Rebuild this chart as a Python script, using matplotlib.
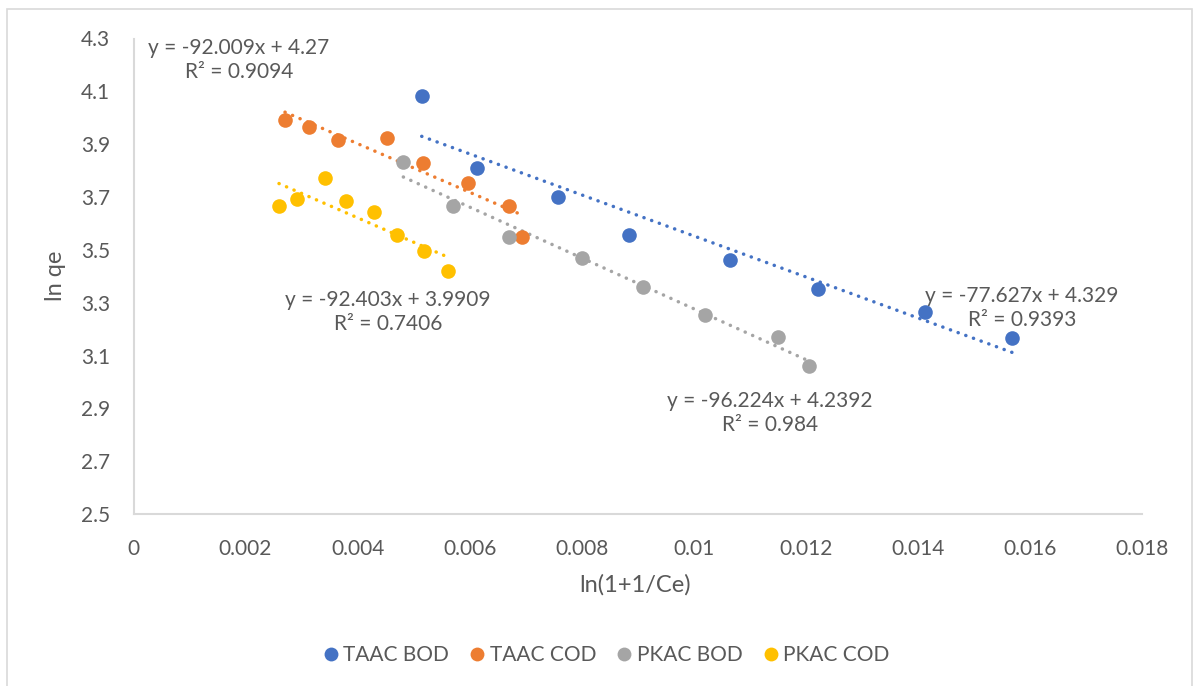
import numpy as np
import matplotlib
matplotlib.use("Agg")
import matplotlib.pyplot as plt
from matplotlib.patches import Rectangle

plt.rcParams['font.family'] = ['Lato', 'DejaVu Sans']

# data
series_names = ["TAAC BOD", "TAAC COD", "PKAC BOD", "PKAC COD"]
series_colors = ["#4472C4", "#ED7D31", "#A5A5A5", "#FFC000"]

taac_bod_x = [0.005144, 0.006126, 0.007572, 0.008850, 0.010647, 0.012212, 0.014128, 0.015686]
taac_bod_y = [4.081, 3.810, 3.701, 3.558, 3.462, 3.352, 3.263, 3.166]

taac_cod_x = [0.002704, 0.003138, 0.003655, 0.004525, 0.005162, 0.005976, 0.006697, 0.006929]
taac_cod_y = [3.991, 3.965, 3.916, 3.924, 3.827, 3.754, 3.667, 3.549]

pkac_bod_x = [0.004816, 0.005703, 0.006697, 0.008000, 0.009089, 0.010206, 0.011509, 0.012062]
pkac_bod_y = [3.832, 3.667, 3.549, 3.470, 3.358, 3.255, 3.169, 3.060]

pkac_cod_x = [0.002597, 0.002913, 0.003413, 0.003793, 0.004298, 0.004703, 0.005185, 0.005608]
pkac_cod_y = [3.667, 3.692, 3.773, 3.686, 3.642, 3.558, 3.495, 3.421]

# trendline coefficients as printed on the chart
slopes = [-77.627, -92.009, -96.224, -92.403]
intercepts = [4.329, 4.27, 4.2392, 3.9909]
r2_values = ["0.9393", "0.9094", "0.984", "0.7406"]

xs = [taac_bod_x, taac_cod_x, pkac_bod_x, pkac_cod_x]
ys = [taac_bod_y, taac_cod_y, pkac_bod_y, pkac_cod_y]

# where the equation labels sit (data coords, centre of the two-line block)
label_pos = [(0.015859, 3.281), (0.001883, 4.2186), (0.011361, 2.881), (0.004543, 3.264)]

text_color = "#595959"
W, H = 1195, 686

fig = plt.figure(figsize=(W / 100, H / 100), dpi=100)
ax = fig.add_axes([133.5 / W, 1 - 514 / H, (1142 - 133.5) / W, (514 - 38.5) / H])

# chart border like excel
fig.patches.append(Rectangle((7 / W, -0.05), (1192 - 7) / W, 1 - 9 / H + 0.05,
                             transform=fig.transFigure, fill=False,
                             edgecolor="#D9D9D9", linewidth=1.2))

for i in range(4):
    x = np.array(xs[i])
    y = np.array(ys[i])
    xl = np.array([x.min(), x.max()])
    ax.plot(xl, slopes[i] * xl + intercepts[i], color=series_colors[i],
            linestyle=(0, (0.05, 2.3)), dash_capstyle="round", linewidth=2.5, zorder=2)
    ax.plot(x, y, "o", color=series_colors[i], markersize=10.5, label=series_names[i],
            markeredgewidth=0, zorder=3)

for i in range(4):
    sign = "+" if intercepts[i] >= 0 else "-"
    txt = "y = %gx %s %g\nR² = %s" % (slopes[i], sign, abs(intercepts[i]), r2_values[i])
    ax.text(label_pos[i][0], label_pos[i][1], txt, ha="center", va="center",
            fontsize=15, color=text_color, linespacing=1.25, multialignment="center",
            clip_on=False, zorder=4)

ax.set_xlim(0, 0.018)
ax.set_ylim(2.5, 4.3)
ax.set_xticks(np.arange(0, 0.0181, 0.002))
ax.set_xticklabels(["0", "0.002", "0.004", "0.006", "0.008", "0.01", "0.012", "0.014", "0.016", "0.018"])
ax.set_yticks(np.arange(2.5, 4.31, 0.2))
ax.set_yticklabels(["2.5", "2.7", "2.9", "3.1", "3.3", "3.5", "3.7", "3.9", "4.1", "4.3"])
ax.tick_params(axis="both", length=0, labelsize=15, labelcolor=text_color)
ax.tick_params(axis="x", pad=18)
ax.tick_params(axis="y", pad=17)

for s in ["top", "right"]:
    ax.spines[s].set_visible(False)
for s in ["left", "bottom"]:
    ax.spines[s].set_color("#D9D9D9")
    ax.spines[s].set_linewidth(1.5)

ax.set_xlabel("ln(1+1/Ce)", fontsize=17, color=text_color, va="center")
ax.xaxis.set_label_coords(0.497, (514 - 585) / (514 - 38.5))
ax.set_ylabel("ln qe", fontsize=17, color=text_color, va="center")
ax.yaxis.set_label_coords((56 - 133.5) / (1142 - 133.5), 0.5)

fig.legend(loc="center", bbox_to_anchor=(604 / W, 1 - 655 / H), ncol=4, frameon=False,
           fontsize=15, labelcolor=text_color, handletextpad=0.0, columnspacing=0.75,
           markerscale=0.95, handlelength=1.2)

fig.savefig("out.png", dpi=100, facecolor="white")
